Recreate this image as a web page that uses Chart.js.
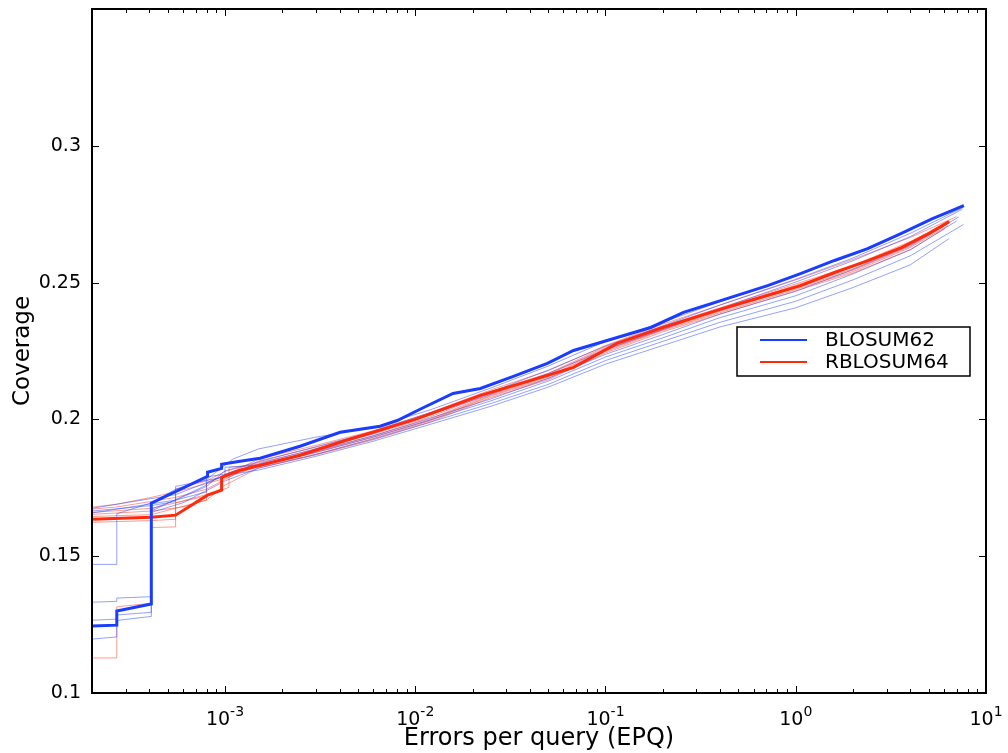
<!DOCTYPE html>
<html>
<head>
<meta charset="utf-8">
<script src="https://cdn.jsdelivr.net/npm/chart.js@4.4.0/dist/chart.umd.min.js"></script>
<style>
  html, body { margin: 0; padding: 0; background: #fff; }
</style>
</head>
<body>
<canvas id="epqChart" width="1008" height="753"></canvas>
<script>
// axis ticks (x labels are 10 to the power of the exponent)
const xTickValues = [1e-3, 1e-2, 1e-1, 1, 10];
const xTickExponents = ['-3', '-2', '-1', '0', '1'];
const yTickValues = [0.1, 0.15, 0.2, 0.25, 0.3];
const yTickLabels = ['0.1', '0.15', '0.2', '0.25', '0.3'];

// main curves
const blosumX = [2e-4, 2.7e-4, 2.7e-4, 4.1e-4, 4.1e-4, 8.1e-4, 8.1e-4, 9.6e-4, 9.6e-4, 1.2e-3, 1.53e-3, 2.48e-3, 4.03e-3, 6.54e-3, 8.04e-3, 1.06e-2, 1.58e-2, 2.2e-2, 3.28e-2, 4.95e-2, 6.79e-2, 9.4e-2, 0.173, 0.257, 0.403, 0.712, 1.06, 1.585, 2.39, 3.57, 5.2, 7.65];
const blosumY = [0.1245, 0.1248, 0.130, 0.1325, 0.1694, 0.1792, 0.1807, 0.1821, 0.1836, 0.1847, 0.1858, 0.1902, 0.1953, 0.1975, 0.1996, 0.2037, 0.2095, 0.2113, 0.2157, 0.2205, 0.2252, 0.2281, 0.2336, 0.2391, 0.2434, 0.2489, 0.2533, 0.258, 0.2624, 0.2679, 0.2733, 0.2781];
const rblosumX = [2e-4, 4.1e-4, 5.5e-4, 8.1e-4, 9.6e-4, 9.6e-4, 1.2e-3, 2.48e-3, 4.3e-3, 1.0e-2, 2.2e-2, 3.9e-2, 6.8e-2, 0.115, 0.2, 0.4, 0.6, 1.06, 1.6, 2.4, 3.6, 5.0, 6.4];
const rblosumY = [0.1635, 0.1642, 0.165, 0.1723, 0.1741, 0.1788, 0.1814, 0.1869, 0.1923, 0.2, 0.2088, 0.2139, 0.219, 0.2278, 0.2336, 0.2402, 0.2438, 0.2489, 0.2537, 0.258, 0.2628, 0.2679, 0.2723];

// thin runs, BLOSUM62
const b1X = [2e-4, 2.7e-4, 2.7e-4, 4.1e-4, 5.5e-4, 8e-4, 1.1e-3, 1.5e-3, 3e-3, 6e-3, 1.2e-2, 2.5e-2, 5e-2, 0.1, 0.2, 0.4, 1, 2, 4, 7.6];
const b1Y = [0.147, 0.147, 0.1655, 0.1695, 0.1745, 0.178, 0.1855, 0.1892, 0.1935, 0.197, 0.2035, 0.2115, 0.2195, 0.2285, 0.2355, 0.243, 0.2525, 0.2605, 0.2695, 0.2785];
const b2X = [2e-4, 2.7e-4, 2.7e-4, 4.1e-4, 4.1e-4, 5.5e-4, 8e-4, 1e-3, 1.5e-3, 3e-3, 6e-3, 1.2e-2, 2.5e-2, 5e-2, 0.1, 0.2, 0.4, 1, 2, 4, 7.6];
const b2Y = [0.1332, 0.1335, 0.1347, 0.1352, 0.1672, 0.1705, 0.1755, 0.1812, 0.1845, 0.19, 0.1955, 0.2025, 0.21, 0.218, 0.2268, 0.2342, 0.2418, 0.2512, 0.259, 0.268, 0.2775];
const b3X = [2e-4, 2.7e-4, 2.7e-4, 4.1e-4, 4.1e-4, 8e-4, 8e-4, 1e-3, 1.5e-3, 3e-3, 6e-3, 1.2e-2, 2.5e-2, 5e-2, 0.1, 0.2, 0.4, 1, 2, 4, 7.5];
const b3Y = [0.1266, 0.127, 0.1285, 0.1295, 0.1665, 0.176, 0.179, 0.18, 0.1838, 0.1893, 0.1948, 0.2018, 0.2092, 0.2168, 0.2255, 0.2328, 0.2405, 0.2502, 0.258, 0.2668, 0.2768];
const b4X = [2e-4, 2.7e-4, 2.7e-4, 4.1e-4, 4.1e-4, 6e-4, 1e-3, 1.5e-3, 3e-3, 6e-3, 1.2e-2, 2.5e-2, 5e-2, 0.1, 0.2, 0.4, 1, 2, 4, 7.6];
const b4Y = [0.1197, 0.1205, 0.1265, 0.128, 0.166, 0.1695, 0.1775, 0.1822, 0.1872, 0.1928, 0.199, 0.2058, 0.2128, 0.2215, 0.2285, 0.2355, 0.2432, 0.251, 0.2598, 0.2712];
const b5X = [2e-4, 2.7e-4, 5.5e-4, 1e-3, 1.5e-3, 3e-3, 6e-3, 1.2e-2, 2.5e-2, 5e-2, 0.1, 0.2, 0.4, 1, 2, 4, 6.4];
const b5Y = [0.1675, 0.169, 0.1725, 0.1795, 0.1815, 0.1865, 0.192, 0.1982, 0.2048, 0.2118, 0.2202, 0.227, 0.2338, 0.2408, 0.2482, 0.2565, 0.2661];
const b6X = [2e-4, 4.1e-4, 5.5e-4, 5.5e-4, 1e-3, 1e-3, 1.5e-3, 3e-3, 6e-3, 1.2e-2, 2.5e-2, 5e-2, 0.1, 0.2, 0.4, 1, 2, 4, 7.2];
const b6Y = [0.1665, 0.1685, 0.17, 0.1755, 0.179, 0.1825, 0.1832, 0.1885, 0.194, 0.2005, 0.2075, 0.215, 0.2238, 0.231, 0.2385, 0.2468, 0.2548, 0.2635, 0.274];
const b7X = [2e-4, 5.5e-4, 8e-4, 8e-4, 1.1e-3, 1.5e-3, 3e-3, 6e-3, 1.2e-2, 2.5e-2, 5e-2, 0.1, 0.2, 0.4, 1, 2, 4, 7.0];
const b7Y = [0.1658, 0.1705, 0.1735, 0.1768, 0.181, 0.1828, 0.188, 0.1935, 0.1998, 0.2068, 0.214, 0.2228, 0.2298, 0.2372, 0.2452, 0.2532, 0.262, 0.2725];

// thin runs, RBLOSUM64
const r1X = [2e-4, 2.7e-4, 4.1e-4, 5.5e-4, 8e-4, 1e-3, 1.5e-3, 3e-3, 6e-3, 1.2e-2, 2.5e-2, 5e-2, 0.1, 0.2, 0.4, 1, 2, 4, 7.0];
const r1Y = [0.1679, 0.169, 0.1715, 0.1735, 0.1765, 0.1795, 0.1855, 0.1905, 0.1958, 0.2025, 0.2108, 0.2178, 0.227, 0.2348, 0.2418, 0.251, 0.2585, 0.2665, 0.2741];
const r2X = [2e-4, 2.7e-4, 4.1e-4, 5.5e-4, 8e-4, 1e-3, 1.5e-3, 3e-3, 6e-3, 1.2e-2, 2.5e-2, 5e-2, 0.1, 0.2, 0.4, 1, 2, 4, 6.5];
const r2Y = [0.1672, 0.168, 0.17, 0.1715, 0.1745, 0.178, 0.1848, 0.1898, 0.1952, 0.2015, 0.2102, 0.2168, 0.2265, 0.234, 0.2408, 0.2495, 0.2562, 0.265, 0.2725];
const r3X = [2e-4, 4.1e-4, 8e-4, 1.05e-3, 1.05e-3, 1.5e-3, 3e-3, 6e-3, 1.2e-2, 2.5e-2, 5e-2, 0.1, 0.2, 0.4, 1, 2, 4, 6.2];
const r3Y = [0.166, 0.1675, 0.172, 0.1752, 0.1825, 0.1835, 0.1882, 0.194, 0.2002, 0.2092, 0.2158, 0.2256, 0.2332, 0.2398, 0.2485, 0.255, 0.2638, 0.2712];
const r4X = [2e-4, 4.1e-4, 6e-4, 8e-4, 8e-4, 1e-3, 1.5e-3, 3e-3, 6e-3, 1.2e-2, 2.5e-2, 5e-2, 0.1, 0.2, 0.4, 1, 2, 4, 6.0];
const r4Y = [0.1653, 0.1665, 0.168, 0.1705, 0.1765, 0.1785, 0.183, 0.1878, 0.1935, 0.1998, 0.2088, 0.2155, 0.2252, 0.2328, 0.2395, 0.248, 0.2545, 0.2632, 0.2705];
const r5X = [2e-4, 4.1e-4, 5.5e-4, 5.5e-4, 9.6e-4, 9.6e-4, 1.5e-3, 3e-3, 6e-3, 1.2e-2, 2.5e-2, 5e-2, 0.1, 0.2, 0.4, 1, 2, 4, 6.3];
const r5Y = [0.1624, 0.163, 0.1635, 0.1695, 0.174, 0.179, 0.1826, 0.1872, 0.193, 0.1995, 0.2085, 0.215, 0.2248, 0.2325, 0.239, 0.2475, 0.254, 0.2628, 0.2708];
const r6X = [2e-4, 2.7e-4, 2.7e-4, 4.1e-4, 4.1e-4, 5.5e-4, 5.5e-4, 8e-4, 1e-3, 1.5e-3, 3e-3, 6e-3, 1.2e-2, 2.5e-2, 5e-2, 0.1, 0.2, 0.4, 1, 2, 4, 6.4];
const r6Y = [0.1128, 0.1128, 0.1315, 0.1328, 0.1605, 0.1607, 0.1745, 0.1775, 0.181, 0.1842, 0.189, 0.1946, 0.2009, 0.2097, 0.2163, 0.2261, 0.2336, 0.2403, 0.249, 0.2557, 0.2646, 0.272];
const r7X = [2e-4, 4.1e-4, 8e-4, 1e-3, 1.5e-3, 3e-3, 6e-3, 1.2e-2, 2.5e-2, 5e-2, 0.1, 0.2, 0.4, 1, 2, 4, 6.1];
const r7Y = [0.1645, 0.1652, 0.1705, 0.176, 0.1822, 0.187, 0.1925, 0.199, 0.208, 0.2145, 0.2243, 0.232, 0.2385, 0.247, 0.2535, 0.262, 0.2698];

const BLUE = '#1a3cff';
const RED = '#ff2a0c';
const BLUE_THIN = 'rgba(40, 70, 255, 0.5)';
const RED_THIN = 'rgba(255, 60, 40, 0.5)';
const FONT = 'DejaVu Sans';

function points(xs, ys) {
  return xs.map((x, i) => ({ x: x, y: ys[i] }));
}

function curve(label, xs, ys, color, width, order) {
  return {
    label: label,
    data: points(xs, ys),
    borderColor: color,
    backgroundColor: color,
    borderWidth: width,
    pointRadius: 0,
    tension: 0,
    fill: false,
    order: order
  };
}

const datasets = [
  curve('BLOSUM62', blosumX, blosumY, BLUE, 3, 0),
  curve('RBLOSUM64', rblosumX, rblosumY, RED, 3, 1),
  curve('', b1X, b1Y, BLUE_THIN, 1, 2),
  curve('', b2X, b2Y, BLUE_THIN, 1, 2),
  curve('', b3X, b3Y, BLUE_THIN, 1, 2),
  curve('', b4X, b4Y, BLUE_THIN, 1, 2),
  curve('', b5X, b5Y, BLUE_THIN, 1, 2),
  curve('', b6X, b6Y, BLUE_THIN, 1, 2),
  curve('', b7X, b7Y, BLUE_THIN, 1, 2),
  curve('', r1X, r1Y, RED_THIN, 1, 2),
  curve('', r2X, r2Y, RED_THIN, 1, 2),
  curve('', r3X, r3Y, RED_THIN, 1, 2),
  curve('', r4X, r4Y, RED_THIN, 1, 2),
  curve('', r5X, r5Y, RED_THIN, 1, 2),
  curve('', r6X, r6Y, RED_THIN, 1, 2),
  curve('', r7X, r7Y, RED_THIN, 1, 2)
];

// frame, inward ticks on all four sides, power-of-ten labels and the boxed legend
const framePlugin = {
  id: 'frame',
  afterDraw(chart) {
    const ctx = chart.ctx;
    const a = chart.chartArea;
    const xs = chart.scales.x;
    const ys = chart.scales.y;
    ctx.save();
    ctx.strokeStyle = '#000';
    ctx.lineWidth = 1;
    ctx.beginPath();
    for (let d = -4; d <= 1; d++) {
      for (let m = 1; m <= 9; m++) {
        const v = m * Math.pow(10, d);
        if (v < xs.min || v > xs.max) continue;
        const px = Math.round(xs.getPixelForValue(v)) + 0.5;
        const len = m === 1 ? 7 : 4;
        ctx.moveTo(px, a.bottom); ctx.lineTo(px, a.bottom - len);
        ctx.moveTo(px, a.top); ctx.lineTo(px, a.top + len);
      }
    }
    yTickValues.forEach(v => {
      const py = Math.round(ys.getPixelForValue(v)) + 0.5;
      ctx.moveTo(a.left, py); ctx.lineTo(a.left + 7, py);
      ctx.moveTo(a.right, py); ctx.lineTo(a.right - 7, py);
    });
    ctx.stroke();
    ctx.lineWidth = 2;
    ctx.strokeRect(a.left, a.top, a.right - a.left, a.bottom - a.top);

    // x tick labels: "10" with a raised exponent
    ctx.fillStyle = '#000';
    ctx.textBaseline = 'alphabetic';
    xTickValues.forEach((v, i) => {
      const px = xs.getPixelForValue(v);
      ctx.font = '19px ' + FONT;
      const bw = ctx.measureText('10').width;
      ctx.font = '14px ' + FONT;
      const ew = ctx.measureText(xTickExponents[i]).width;
      const x0 = px - (bw + ew) / 2;
      ctx.font = '19px ' + FONT;
      ctx.fillText('10', x0, a.bottom + 32);
      ctx.font = '14px ' + FONT;
      ctx.fillText(xTickExponents[i], x0 + bw, a.bottom + 23);
    });

    // legend
    const lx = 737, ly = 327, lw = 233, lh = 49;
    ctx.fillStyle = '#fff';
    ctx.fillRect(lx, ly, lw, lh);
    ctx.lineWidth = 1.5;
    ctx.strokeRect(lx, ly, lw, lh);
    const entries = [[datasets[0].label, BLUE, ly + 13], [datasets[1].label, RED, ly + 35]];
    ctx.font = '20px ' + FONT;
    ctx.textBaseline = 'middle';
    entries.forEach(([text, color, y]) => {
      ctx.strokeStyle = color;
      ctx.lineWidth = 2.2;
      ctx.beginPath();
      ctx.moveTo(lx + 23, y);
      ctx.lineTo(lx + 70, y);
      ctx.stroke();
      ctx.fillStyle = '#000';
      ctx.fillText(text, lx + 88, y + 1);
    });
    ctx.restore();
  }
};

new Chart(document.getElementById('epqChart'), {
  type: 'line',
  data: { datasets: datasets },
  plugins: [framePlugin],
  options: {
    responsive: false,
    devicePixelRatio: 1,
    animation: false,
    layout: { padding: { top: 9, right: 22, left: 0, bottom: 0 } },
    plugins: { legend: { display: false }, tooltip: { enabled: false } },
    scales: {
      x: {
        type: 'logarithmic',
        min: 2e-4,
        max: 10,
        grid: { display: false, drawTicks: false },
        border: { display: false },
        afterBuildTicks: s => { s.ticks = xTickValues.map(v => ({ value: v })); },
        afterFit: s => { s.height = 60; s.paddingLeft = 0; s.paddingRight = 0; },
        ticks: {
          display: false
        },
        title: {
          display: true,
          text: 'Errors per query (EPQ)',
          color: '#000',
          font: { family: FONT, size: 24 },
          padding: { top: 0, bottom: 0 }
        }
      },
      y: {
        type: 'linear',
        min: 0.1,
        max: 0.35,
        grid: { display: false, drawTicks: false },
        border: { display: false },
        afterBuildTicks: s => { s.ticks = yTickValues.map(v => ({ value: v })); },
        afterFit: s => { s.width = 92; s.paddingTop = 0; s.paddingBottom = 0; },
        ticks: {
          padding: 11,
          color: '#000',
          font: { family: FONT, size: 19 },
          callback: v => yTickLabels[yTickValues.indexOf(v)]
        },
        title: {
          display: true,
          text: 'Coverage',
          color: '#000',
          font: { family: FONT, size: 23 },
          padding: { top: 9, bottom: 0 }
        }
      }
    }
  }
});
</script>
</body>
</html>
